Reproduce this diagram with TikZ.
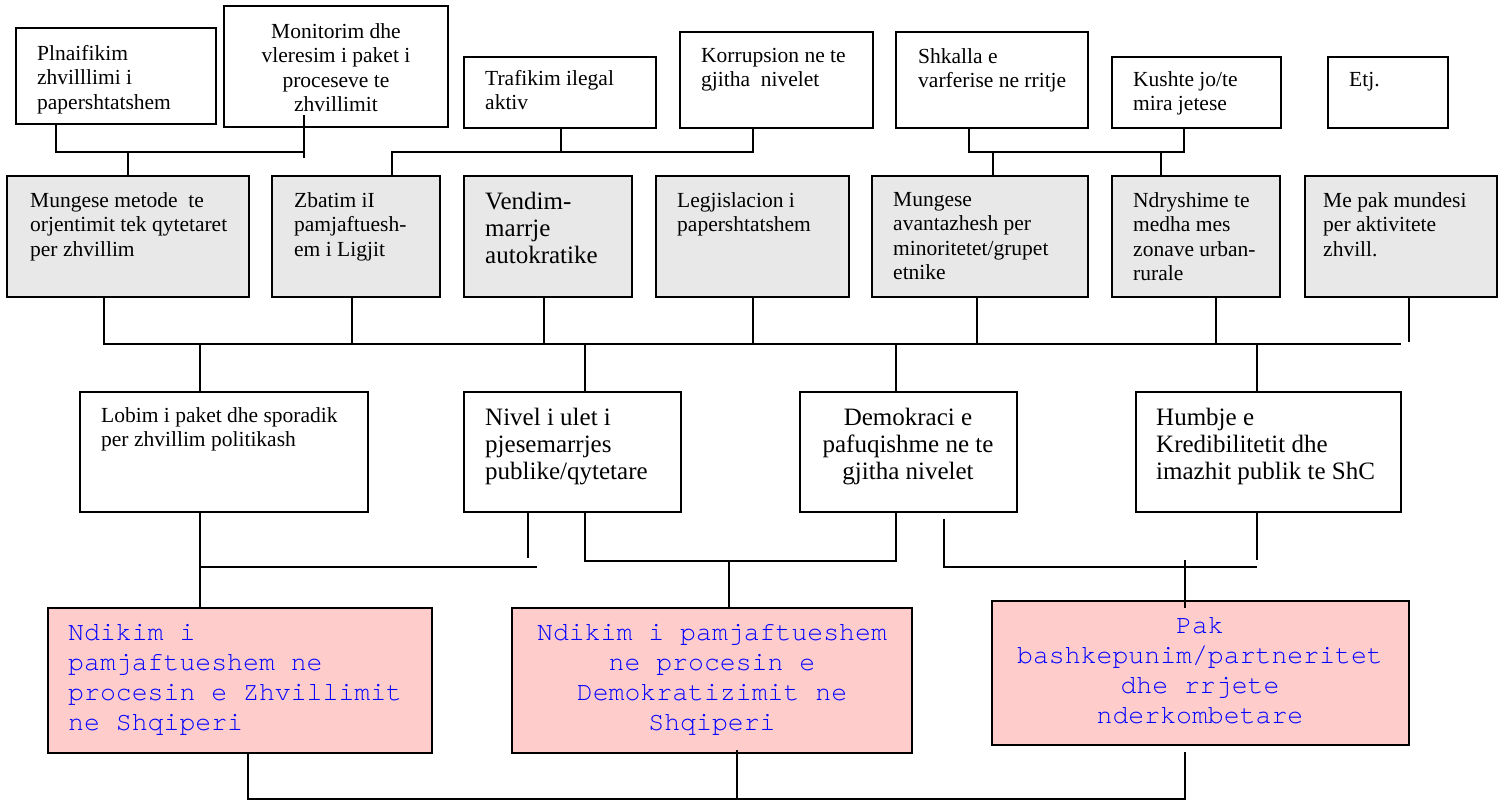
\documentclass[tikz,border=0pt]{standalone}
\usepackage{fontspec}
\setmainfont{Liberation Serif}
\newfontfamily\monofam{TeX Gyre Cursor}
\newcommand\myNorm{\fontsize{21.5}{24.5}\selectfont}
\newcommand\myBig{\fontsize{25}{27}\selectfont}
\newcommand\myMono{\monofam\fontsize{26.5}{30}\selectfont}
\definecolor{boxgrey}{HTML}{E8E8E8}
\definecolor{boxpink}{HTML}{FFCCCC}
\definecolor{txtblue}{HTML}{0000FF}
\begin{document}
\begin{tikzpicture}[x=1pt,y=-1pt,
  box/.style={draw, line width=1.6pt, inner sep=0pt, outer sep=0pt, anchor=north west},
  greybox/.style={box, fill=boxgrey},
  pinkbox/.style={box, fill=boxpink},
  conn/.style={line width=1.4pt},
  tl/.style={inner sep=0pt, anchor=north west, align=left, font=\myNorm},
  tc/.style={inner sep=0pt, anchor=north, align=center, font=\myNorm},
  tlbig/.style={tl, font=\myBig},
  tcbig/.style={tc, font=\myBig},
  tlmono/.style={inner sep=0pt, anchor=north west, align=left, font=\myMono, text=txtblue},
  tcmono/.style={inner sep=0pt, anchor=north, align=center, font=\myMono, text=txtblue}]
\useasboundingbox (0,0) rectangle (1502,801);

% ---- row 1
\node[box, minimum width=200pt, minimum height=96pt] (P) at (16,28) {};
\node[box, minimum width=224pt, minimum height=121pt] (M) at (224,6) {};
\node[box, minimum width=192pt, minimum height=71pt] (T) at (464,57) {};
\node[box, minimum width=193pt, minimum height=96pt] (K) at (680,32) {};
\node[box, minimum width=192pt, minimum height=96pt] (S) at (896,32) {};
\node[box, minimum width=169pt, minimum height=71pt] (Ku) at (1112,57) {};
\node[box, minimum width=120pt, minimum height=71pt] (E) at (1328,57) {};

\node[tl] (Pt) at (37,45) {Plnaifikim\\zhvilllimi i\\papershtatshem};
\node[tc] (Mt) at (336,23) {Monitorim dhe\\vleresim i paket i\\proceseve te\\zhvillimit};
\node[tl] (Tt) at (485,70) {Trafikim ilegal\\aktiv};
\node[tl] (Kt) at (701,48) {Korrupsion ne te\\gjitha\ \ nivelet};
\node[tl] (St) at (918,48) {Shkalla e\\varferise ne rritje};
\node[tl] (Kut) at (1133,71) {Kushte jo/te\\mira jetese};
\node[tl] (Et) at (1349,72) {Etj.};

% ---- row 2
\node[greybox, minimum width=242pt, minimum height=121pt] (R1) at (7,176) {};
\node[greybox, minimum width=168pt, minimum height=121pt] (R2) at (272,176) {};
\node[greybox, minimum width=168pt, minimum height=121pt] (R3) at (464,176) {};
\node[greybox, minimum width=193pt, minimum height=121pt] (R4) at (656,176) {};
\node[greybox, minimum width=216pt, minimum height=121pt] (R5) at (872,176) {};
\node[greybox, minimum width=168pt, minimum height=121pt] (R6) at (1112,176) {};
\node[greybox, minimum width=192pt, minimum height=121pt] (R7) at (1305,176) {};

\node[tl] (R1t) at (30,192) {Mungese metode\ \ te\\orjentimit tek qytetaret\\per zhvillim};
\node[tl] (R2t) at (294,192) {Zbatim iI\\pamjaftuesh-\\em i Ligjit};
\node[tlbig] (R3t) at (485,192) {Vendim-\\marrje\\autokratike};
\node[tl] (R4t) at (677,192) {Legjislacion i\\papershtatshem};
\node[tl] (R5t) at (893,192) {Mungese\\avantazhesh per\\minoritetet/grupet\\etnike};
\node[tl] (R6t) at (1133,192) {Ndryshime te\\medha mes\\zonave urban-\\rurale};
\node[tl] (R7t) at (1323,192) {Me pak mundesi\\per aktivitete\\zhvill.};

% ---- row 3
\node[box, minimum width=288pt, minimum height=120pt] (L) at (80,392) {};
\node[box, minimum width=217pt, minimum height=120pt] (N) at (464,392) {};
\node[box, minimum width=217pt, minimum height=120pt] (D) at (800,392) {};
\node[box, minimum width=265pt, minimum height=120pt] (H) at (1136,392) {};

\node[tl] (Lt) at (101,407) {Lobim i paket dhe sporadik\\per zhvillim politikash};
\node[tlbig] (Nt) at (485,407.5) {Nivel i ulet i\\pjesemarrjes\\publike/qytetare};
\node[tcbig] (Dt) at (908,407.5) {Demokraci e\\pafuqishme ne te\\gjitha nivelet};
\node[tlbig] (Ht) at (1156,407.5) {Humbje e\\Kredibilitetit dhe\\imazhit publik te ShC};

% ---- pink row
\node[pinkbox, minimum width=384pt, minimum height=145pt] (Z1) at (48,608) {};
\node[pinkbox, minimum width=400pt, minimum height=145pt] (Z2) at (512,608) {};
\node[pinkbox, minimum width=417pt, minimum height=144pt] (Z3) at (992,601) {};

\node[tlmono] (Z1t) at (68,624) {Ndikim i\\pamjaftueshem ne\\procesin e Zhvillimit\\ne Shqiperi};
\node[tcmono] (Z2t) at (712,624) {Ndikim i pamjaftueshem\\ne procesin e\\Demokratizimit ne\\Shqiperi};
\node[tcmono] (Z3t) at (1200,617) {Pak\\bashkepunim/partneritet\\dhe rrjete\\nderkombetare};

% ---- connectors row 1 -> row 2
\coordinate (a1) at (56,152); \coordinate (a2) at (304,152); \coordinate (a3) at (128,152);
\coordinate (a4) at (304,115); \coordinate (a5) at (304,158);
\draw[conn] (P.south -| a1) -- (a1) -- (a2);
\draw[conn] (a4) -- (a5);
\draw[conn] (a3) -- (a3 |- R1.north);

\coordinate (b1) at (392,152); \coordinate (b2) at (753,152); \coordinate (b3) at (561,152);
\draw[conn] (R2.north -| b1) -- (b1) -- (b2) -- (b2 |- K.south);
\draw[conn] (b3) -- (b3 |- T.south);

\coordinate (c1) at (969,152); \coordinate (c2) at (1184,152);
\coordinate (c3) at (993,152); \coordinate (c4) at (1161,152);
\draw[conn] (S.south -| c1) -- (c1) -- (c2) -- (c2 |- Ku.south);
\draw[conn] (c3) -- (c3 |- R5.north);
\draw[conn] (c4) -- (c4 |- R6.north);

% ---- connectors row 2 -> row 3
\coordinate (h1) at (104,344); \coordinate (h2) at (1401,344);
\draw[conn] (R1.south -| h1) -- (h1) -- (h2);
\coordinate (h3) at (352,344); \draw[conn] (R2.south -| h3) -- (h3);
\coordinate (h4) at (544,344); \draw[conn] (R3.south -| h4) -- (h4);
\coordinate (h5) at (753,344); \draw[conn] (R4.south -| h5) -- (h5);
\coordinate (h6) at (977,344); \draw[conn] (R5.south -| h6) -- (h6);
\coordinate (h7) at (1216,344); \draw[conn] (R6.south -| h7) -- (h7);
\coordinate (h9) at (1409,342); \draw[conn] (R7.south -| h9) -- (h9);
\coordinate (d1) at (200,344); \draw[conn] (d1) -- (d1 |- L.north);
\coordinate (d2) at (585,344); \draw[conn] (d2) -- (d2 |- N.north);
\coordinate (d3) at (896,344); \draw[conn] (d3) -- (d3 |- D.north);
\coordinate (d4) at (1257,344); \draw[conn] (d4) -- (d4 |- H.north);

% ---- connectors row 3 -> pink
\coordinate (e1) at (200,567); \coordinate (e2) at (537,567);
\draw[conn] (L.south -| e1) -- (e1 |- Z1.north);
\draw[conn] (e1) -- (e2);
\coordinate (e3) at (528,558); \draw[conn] (N.south -| e3) -- (e3);
\coordinate (f1) at (585,561); \coordinate (f2) at (896,561);
\draw[conn] (N.south -| f1) -- (f1) -- (f2) -- (f2 |- D.south);
\coordinate (f3) at (729,561); \draw[conn] (f3) -- (f3 |- Z2.north);
\coordinate (g1) at (944,519); \coordinate (g2) at (944,567); \coordinate (g3) at (1257,567);
\draw[conn] (g1) -- (g2) -- (g3);
\coordinate (g4) at (1257,560); \draw[conn] (H.south -| g4) -- (g4);
\coordinate (g5) at (1185,560); \coordinate (g6) at (1185,608);
\draw[conn] (g5) -- (g6);

% ---- bottom connectors
\coordinate (k1) at (248,799); \coordinate (k2) at (1185,799);
\coordinate (k3) at (737,799); \coordinate (k4) at (737,750);
\coordinate (k5) at (1185,752);
\draw[conn] (Z1.south -| k1) -- (k1) -- (k2) -- (k5);
\draw[conn] (k4) -- (k3);
\end{tikzpicture}
\end{document}
